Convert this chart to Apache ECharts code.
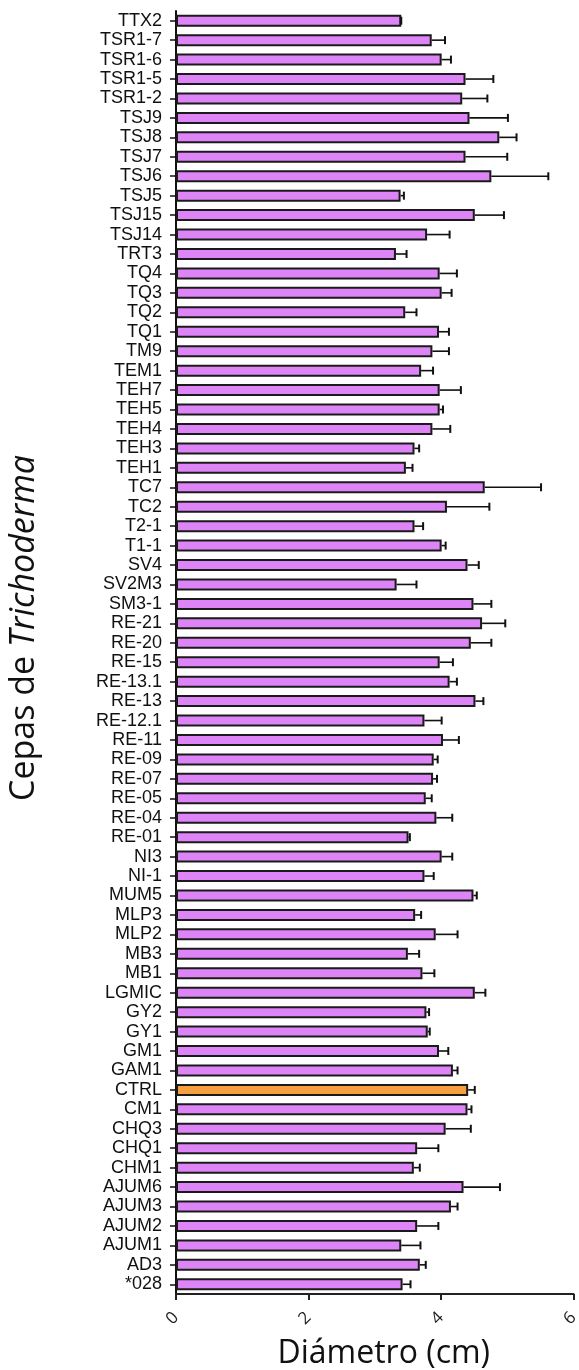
<!DOCTYPE html>
<html>
<head>
<meta charset="utf-8">
<script src="https://cdn.jsdelivr.net/npm/echarts@6/dist/echarts.min.js"></script>
<style>
html,body{margin:0;padding:0;background:#fff;}
#main{width:579px;height:1370px;}
</style>
</head>
<body>
<div id="main"></div>
<script>
const categories = ["TTX2","TSR1-7","TSR1-6","TSR1-5","TSR1-2","TSJ9","TSJ8","TSJ7","TSJ6","TSJ5","TSJ15","TSJ14","TRT3","TQ4","TQ3","TQ2","TQ1","TM9","TEM1","TEH7","TEH5","TEH4","TEH3","TEH1","TC7","TC2","T2-1","T1-1","SV4","SV2M3","SM3-1","RE-21","RE-20","RE-15","RE-13.1","RE-13","RE-12.1","RE-11","RE-09","RE-07","RE-05","RE-04","RE-01","NI3","NI-1","MUM5","MLP3","MLP2","MB3","MB1","LGMIC","GY2","GY1","GM1","GAM1","CTRL","CM1","CHQ3","CHQ1","CHM1","AJUM6","AJUM3","AJUM2","AJUM1","AD3","*028"];

const means = [3.40,3.86,4.01,4.37,4.32,4.43,4.88,4.37,4.76,3.39,4.51,3.79,3.32,3.98,4.01,3.46,3.97,3.87,3.70,3.98,3.98,3.87,3.60,3.47,4.66,4.09,3.60,4.01,4.40,3.33,4.49,4.62,4.45,3.98,4.13,4.52,3.75,4.03,3.89,3.88,3.77,3.93,3.51,4.01,3.75,4.49,3.61,3.92,3.50,3.72,4.51,3.78,3.80,3.97,4.18,4.41,4.40,4.07,3.64,3.59,4.34,4.15,3.64,3.40,3.68,3.42];

const errors = [0.00,0.20,0.14,0.42,0.38,0.58,0.26,0.63,0.86,0.05,0.44,0.34,0.16,0.26,0.15,0.17,0.15,0.25,0.18,0.32,0.05,0.27,0.07,0.10,0.85,0.64,0.13,0.06,0.17,0.30,0.27,0.35,0.31,0.20,0.11,0.12,0.26,0.24,0.06,0.06,0.09,0.24,0.02,0.16,0.14,0.05,0.09,0.33,0.17,0.18,0.16,0.04,0.03,0.14,0.07,0.10,0.06,0.38,0.32,0.09,0.55,0.10,0.32,0.29,0.09,0.12];

const xTicks = [0, 2, 4, 6];
const controlName = "CTRL";

const purple = '#dd84f6';
const orange = '#f59f3f';

const barData = categories.map((c, i) => ({
  value: means[i],
  itemStyle: { color: c === controlName ? orange : purple }
}));
const errData = categories.map((c, i) => [i, means[i], means[i] + errors[i]]);

const chart = echarts.init(document.getElementById('main'), null, {renderer: 'canvas'});
chart.setOption({
  animation: false,
  backgroundColor: '#fff',
  grid: { left: 176, right: 5.5, top: 11, bottom: 76, containLabel: false, outerBoundsMode: 'none' },
  xAxis: {
    type: 'value', min: 0, max: 6, interval: 2,
    axisLine: { show: true, lineStyle: { color: '#222', width: 2 } },
    axisTick: { show: true, length: 6, lineStyle: { color: '#222', width: 2 } },
    splitLine: { show: false },
    axisLabel: {
      rotate: 45, margin: 21, fontSize: 17, color: '#222',
      fontFamily: 'Open Sans',
      formatter: v => xTicks.includes(v) ? String(v) : ''
    },
    name: 'Diámetro (cm)', nameLocation: 'middle', nameGap: 44,
    nameTextStyle: { fontSize: 32, fontFamily: 'Open Sans', color: '#111', padding: [0, 0, 0, 18] }
  },
  yAxis: {
    type: 'category', data: categories, inverse: true,
    axisLine: { show: true, lineStyle: { color: '#111', width: 2 } },
    axisTick: { show: true, length: 6, alignWithLabel: true, lineStyle: { color: '#111', width: 1.5 } },
    axisLabel: { margin: 14, fontSize: 18, color: '#111', fontFamily: 'Liberation Sans', interval: 0 }
  },
  graphic: [{
    type: 'text',
    left: 7, top: 455,
    rotation: Math.PI / 2,
    style: {
      text: '{a|Cepas de }{b|Trichoderma}',
      rich: {
        a: { fontSize: 34, fontFamily: 'Open Sans', fill: '#111', fontStyle: 'normal' },
        b: { fontSize: 34, fontFamily: 'Open Sans', fill: '#111', fontStyle: 'italic' }
      }
    }
  }],
  series: [
    {
      type: 'bar', data: barData, barWidth: 12,
      itemStyle: { borderColor: '#1a1a1a', borderWidth: 2 }
    },
    {
      type: 'custom', data: errData, z: 10,
      renderItem: function (params, api) {
        const cat = api.value(0);
        const p0 = api.coord([api.value(1), cat]);
        const p1 = api.coord([api.value(2), cat]);
        const cap = 4;
        return {
          type: 'group',
          children: [
            { type: 'line', shape: { x1: p0[0], y1: p0[1], x2: p1[0], y2: p1[1] }, style: { stroke: '#111', lineWidth: 1.6 } },
            { type: 'line', shape: { x1: p1[0], y1: p1[1] - cap, x2: p1[0], y2: p1[1] + cap }, style: { stroke: '#111', lineWidth: 2 } }
          ]
        };
      }
    }
  ]
});
</script>
</body>
</html>
